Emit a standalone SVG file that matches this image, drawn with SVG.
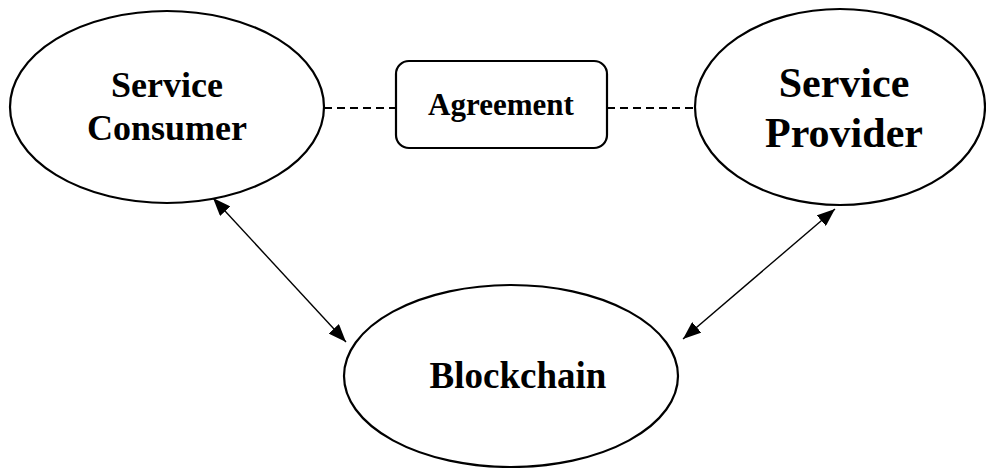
<svg xmlns="http://www.w3.org/2000/svg" width="986" height="468" viewBox="0 0 986 468">
<style>
.node{fill:#fff;stroke:#000;stroke-width:2.2}
.lbl{font-family:"Liberation Serif","Times New Roman",serif;font-weight:bold;fill:#000;text-anchor:middle}
.dash{stroke:#000;stroke-width:2;stroke-dasharray:8 5;fill:none}
.arr{stroke:#000;stroke-width:1.4;fill:none;marker-start:url(#ah);marker-end:url(#ah)}
</style>
<defs>
<marker id="ah" viewBox="0 0 18 14" refX="18" refY="7" markerWidth="18" markerHeight="14" markerUnits="userSpaceOnUse" orient="auto-start-reverse">
<path d="M0,0 L18,7 L0,14 Z" fill="#000"/>
</marker>
</defs>
<rect width="986" height="468" fill="#fff"/>
<g id="connectors">
<line class="dash" x1="324" y1="108" x2="396" y2="108"/>
<line class="dash" x1="607" y1="108" x2="695" y2="108"/>
<line class="arr" x1="213" y1="198" x2="346" y2="342"/>
<line class="arr" x1="835" y1="209" x2="683" y2="339"/>
</g>
<g id="consumer">
<ellipse class="node" cx="167" cy="107" rx="157" ry="96"/>
<text class="lbl" x="167" y="97" font-size="36">Service</text>
<text class="lbl" x="167" y="140" font-size="36">Consumer</text>
</g>
<g id="agreement">
<rect class="node" x="396" y="61" width="211" height="87" rx="13"/>
<text class="lbl" x="501" y="115" font-size="31">Agreement</text>
</g>
<g id="provider">
<ellipse class="node" cx="840" cy="107" rx="145" ry="98"/>
<text class="lbl" x="844" y="97" font-size="42">Service</text>
<text class="lbl" x="844" y="147" font-size="42">Provider</text>
</g>
<g id="blockchain">
<ellipse class="node" cx="511" cy="376" rx="167" ry="91"/>
<text class="lbl" x="518" y="388" font-size="37">Blockchain</text>
</g>
</svg>
